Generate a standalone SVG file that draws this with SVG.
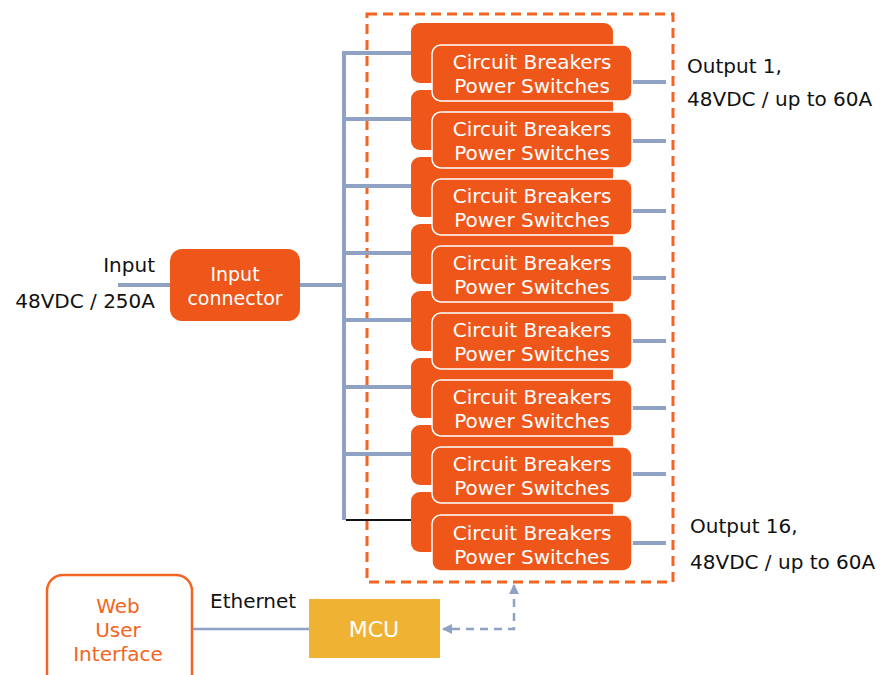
<svg xmlns="http://www.w3.org/2000/svg" width="882" height="675" viewBox="0 0 882 675">
<defs>
<style>
.t{font-family:"DejaVu Sans","Verdana",sans-serif;font-size:20px;fill:#111}
.w{font-family:"DejaVu Sans","Verdana",sans-serif;font-size:20px;fill:#fff;text-anchor:middle}
.bk{fill:#EF5619}
.fr{fill:#EF5619;stroke:#fff;stroke-width:1.5}
.bus{stroke:#8FA2C4;stroke-width:4;fill:none}
</style>
<marker id="ah" viewBox="0 0 10 10" refX="9" refY="5" markerWidth="4" markerHeight="4" orient="auto-start-reverse" markerUnits="strokeWidth">
<path d="M0,0 L10,5 L0,10 z" fill="#8FA2C4"/>
</marker>
</defs>
<rect width="882" height="675" fill="#fff"/>
<rect id="group-box" x="367" y="14" width="306" height="568" fill="none" stroke="#F26522" stroke-width="3" stroke-dasharray="10,6"/>
<g id="connectors">
<line class="bus" x1="118" y1="285" x2="170" y2="285"/>
<line class="bus" x1="300" y1="285" x2="344" y2="285"/>
<line class="bus" x1="344" y1="51" x2="344" y2="520"/>
<line class="bus" x1="342" y1="53" x2="412" y2="53"/>
<line class="bus" x1="342" y1="119" x2="412" y2="119"/>
<line class="bus" x1="342" y1="186" x2="412" y2="186"/>
<line class="bus" x1="342" y1="253" x2="412" y2="253"/>
<line class="bus" x1="342" y1="320" x2="412" y2="320"/>
<line class="bus" x1="342" y1="387" x2="412" y2="387"/>
<line class="bus" x1="342" y1="454" x2="412" y2="454"/>
<line x1="346" y1="520" x2="412" y2="520" stroke="#111" stroke-width="2"/>
<line class="bus" x1="632" y1="82" x2="666" y2="82"/>
<line class="bus" x1="632" y1="141" x2="666" y2="141"/>
<line class="bus" x1="632" y1="211" x2="666" y2="211"/>
<line class="bus" x1="632" y1="278" x2="666" y2="278"/>
<line class="bus" x1="632" y1="341" x2="666" y2="341"/>
<line class="bus" x1="632" y1="408" x2="666" y2="408"/>
<line class="bus" x1="632" y1="474" x2="666" y2="474"/>
<line class="bus" x1="632" y1="543" x2="666" y2="543"/>
<line x1="193" y1="629" x2="309" y2="629" stroke="#8FA2C4" stroke-width="2.5"/>
<path d="M514,585 L514,629 L443,629" fill="none" stroke="#8FA2C4" stroke-width="2.5" stroke-dasharray="8,6" marker-start="url(#ah)" marker-end="url(#ah)"/>
</g>
<g id="input-label">
<text class="t" x="155" y="272" text-anchor="end">Input</text>
<text class="t" x="155" y="308" text-anchor="end">48VDC / 250A</text>
</g>
<g id="input-connector">
<rect class="bk" x="170" y="249" width="130" height="72" rx="12"/>
<text class="w" x="235" y="281" style="font-size:19px">Input</text>
<text class="w" x="235" y="305" style="font-size:19px">connector</text>
</g>
<g id="cb-stack">
<rect class="bk" x="411" y="23" width="202" height="60" rx="9"/>
<rect class="bk" x="411" y="90" width="202" height="60" rx="9"/>
<rect class="bk" x="411" y="157" width="202" height="60" rx="9"/>
<rect class="bk" x="411" y="224" width="202" height="60" rx="9"/>
<rect class="bk" x="411" y="291" width="202" height="60" rx="9"/>
<rect class="bk" x="411" y="358" width="202" height="60" rx="9"/>
<rect class="bk" x="411" y="425" width="202" height="60" rx="9"/>
<rect class="bk" x="411" y="492" width="202" height="60" rx="9"/>
</g>
<g id="cb1"><rect class="fr" x="432" y="45" width="200" height="56" rx="9"/><text class="w" x="532" y="69">Circuit Breakers</text><text class="w" x="532" y="93">Power Switches</text></g>
<g id="cb2"><rect class="fr" x="432" y="112" width="200" height="56" rx="9"/><text class="w" x="532" y="136">Circuit Breakers</text><text class="w" x="532" y="160">Power Switches</text></g>
<g id="cb3"><rect class="fr" x="432" y="179" width="200" height="56" rx="9"/><text class="w" x="532" y="203">Circuit Breakers</text><text class="w" x="532" y="227">Power Switches</text></g>
<g id="cb4"><rect class="fr" x="432" y="246" width="200" height="56" rx="9"/><text class="w" x="532" y="270">Circuit Breakers</text><text class="w" x="532" y="294">Power Switches</text></g>
<g id="cb5"><rect class="fr" x="432" y="313" width="200" height="56" rx="9"/><text class="w" x="532" y="337">Circuit Breakers</text><text class="w" x="532" y="361">Power Switches</text></g>
<g id="cb6"><rect class="fr" x="432" y="380" width="200" height="56" rx="9"/><text class="w" x="532" y="404">Circuit Breakers</text><text class="w" x="532" y="428">Power Switches</text></g>
<g id="cb7"><rect class="fr" x="432" y="447" width="200" height="56" rx="9"/><text class="w" x="532" y="471">Circuit Breakers</text><text class="w" x="532" y="495">Power Switches</text></g>
<g id="cb8"><rect class="fr" x="432" y="515" width="200" height="56" rx="9"/><text class="w" x="532" y="540">Circuit Breakers</text><text class="w" x="532" y="564">Power Switches</text></g>
<g id="output-labels">
<text class="t" x="687" y="73">Output 1,</text>
<text class="t" x="687" y="106">48VDC / up to 60A</text>
<text class="t" x="690" y="533">Output 16,</text>
<text class="t" x="690" y="569">48VDC / up to 60A</text>
</g>
<g id="web-ui">
<rect x="47" y="575" width="145" height="120" rx="16" fill="#fff" stroke="#F26522" stroke-width="2.5"/>
<text class="w" x="118" y="613" style="fill:#F26522">Web</text>
<text class="w" x="118" y="637" style="fill:#F26522">User</text>
<text class="w" x="118" y="661" style="fill:#F26522">Interface</text>
</g>
<text class="t" x="210" y="608">Ethernet</text>
<g id="mcu">
<rect x="309" y="599" width="131" height="59" fill="#F0B232"/>
<text class="w" x="374" y="637" style="font-size:22px">MCU</text>
</g>
</svg>
